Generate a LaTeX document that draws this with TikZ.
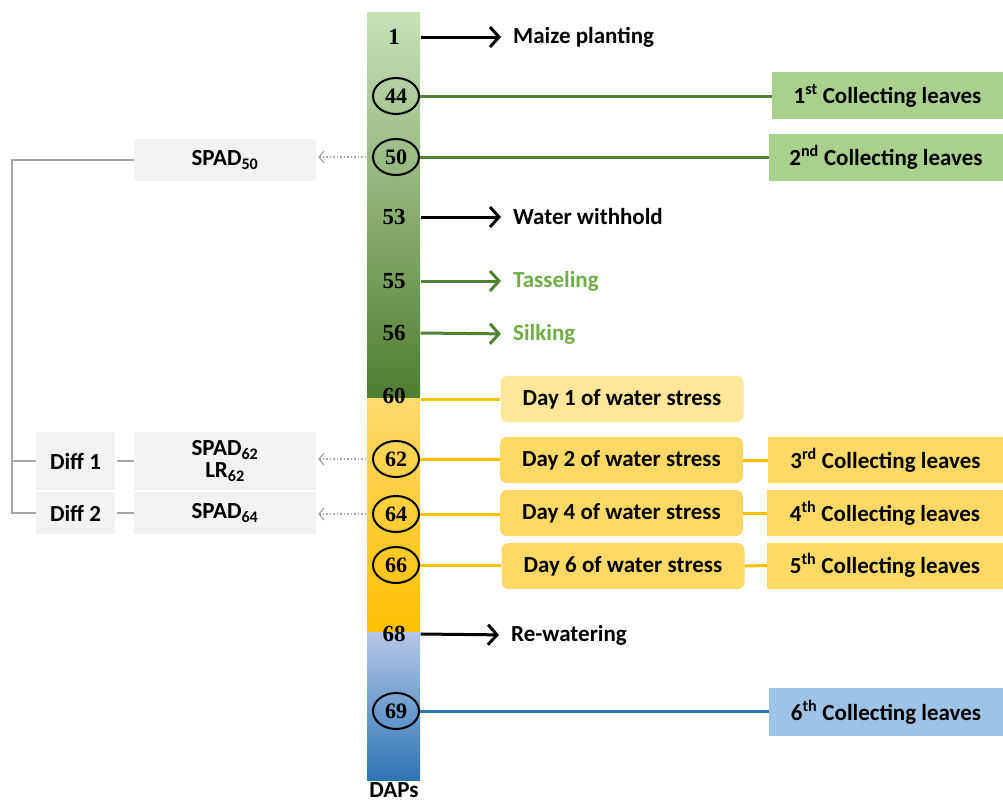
\documentclass[tikz,border=0pt]{standalone}
\usepackage{fontspec}
\setmainfont{Carlito}
\newfontfamily\numfont{Liberation Serif}
\usetikzlibrary{arrows.meta,shapes.geometric}
\definecolor{gTop}{HTML}{C8E2B8}
\definecolor{gBot}{HTML}{4E7D30}
\definecolor{yTop}{HTML}{FFDA6E}
\definecolor{yBot}{HTML}{FFC000}
\definecolor{bTop}{HTML}{B4C7E7}
\definecolor{bBot}{HTML}{2E75B6}
\definecolor{boxGreen}{HTML}{A9D18E}
\definecolor{dayOne}{HTML}{FFE699}
\definecolor{dayBox}{HTML}{FFD966}
\definecolor{boxBlue}{HTML}{9DC3E6}
\definecolor{boxGray}{HTML}{F2F2F2}
\definecolor{lnGreen}{HTML}{548235}
\definecolor{txtGreen}{HTML}{70AD47}
\definecolor{lnYellow}{HTML}{FFC000}
\definecolor{lnBlue}{HTML}{2E75B6}
\definecolor{lnGray}{HTML}{A6A6A6}
\begin{document}
\begin{tikzpicture}[x=1pt,y=-1pt,
  every node/.style={font=\fontsize{23}{26}\selectfont\bfseries},
  num/.style={font=\fontsize{23}{24}\selectfont\numfont\bfseries, minimum width=53pt, inner sep=0pt},
  cnum/.style={font=\fontsize{22}{24}\selectfont\numfont\bfseries, ellipse, draw=black, line width=2pt, minimum width=46pt, minimum height=36pt, inner sep=0pt},
  lbl/.style={anchor=west, inner xsep=0pt},
  blackarrow/.style={line width=3pt, -{Straight Barb[length=9pt,width=20pt,line width=3pt]}, shorten >=12pt},
  greenarrow/.style={lnGreen, line width=3pt, -{Straight Barb[length=9pt,width=20pt,line width=3pt]}, shorten >=12pt},
  conn/.style={line width=3pt},
  dotarrow/.style={lnGray, line width=1.5pt, dotted, -{Straight Barb[length=5pt,width=12pt,line width=1.2pt]}, shorten <=6pt, shorten >=2pt},
  grayline/.style={lnGray, line width=1.5pt},
  gbox/.style={fill=boxGreen, minimum height=47pt, inner sep=0pt},
  ybox/.style={fill=dayBox, minimum height=46pt, inner sep=0pt},
  daybox/.style={fill=dayBox, rounded corners=7pt, minimum width=243pt, minimum height=46pt, inner sep=0pt},
  graybox/.style={fill=boxGray, inner sep=0pt}
]
\useasboundingbox (0,0) rectangle (1003,804);
\fill[white] (0,0) rectangle (1003,804);

% bar
\shade[top color=gTop, bottom color=gBot] (367,12) rectangle (420,398);
\shade[top color=yTop, bottom color=yBot] (367,398) rectangle (420,632);
\shade[top color=bTop, bottom color=bBot] (367,632) rectangle (420,780);

% numbers
\node[num] (n1) at (394,37) {1};
\node[cnum] (n44) at (396,96) {44};
\node[cnum] (n50) at (396,157) {50};
\node[num] (n53) at (394,217) {53};
\node[num] (n55) at (394,281) {55};
\node[num] (n56) at (394,333) {56};
\node[num] (n60) at (394,396) {60};
\node[cnum] (n62) at (396,459) {62};
\node[cnum] (n64) at (396,514) {64};
\node[cnum] (n66) at (396,565) {66};
\node[num] (n68) at (394,634) {68};
\node[cnum] (n69) at (396,711) {69};
\node[inner sep=0pt, anchor=base] (daps) at (394,797) {DAPs};

% labels with arrows
\node[lbl] (maize) at (513,37) {Maize planting};
\node[lbl] (withhold) at (513,217) {Water withhold};
\node[lbl, text=txtGreen] (tassel) at (513,281) {Tasseling};
\node[lbl, text=txtGreen] (silk) at (513,334) {Silking};
\node[lbl] (rewater) at (511,635) {Re-watering};
\draw[blackarrow] (n1.east) -- (maize.west);
\draw[blackarrow] (n53.east) -- (withhold.west);
\draw[greenarrow] (n55.east) -- (tassel.west);
\draw[greenarrow] (n56.east) -- (silk.west);
\draw[blackarrow] (n68.east) -- (rewater.west);

% right boxes
\node[gbox, minimum width=231pt] (c1) at (887.5,95.5) {1\textsuperscript{st} Collecting leaves};
\node[gbox, minimum width=234pt] (c2) at (886,157) {2\textsuperscript{nd} Collecting leaves};
\node[daybox, fill=dayOne] (d1) at (622,399) {Day 1 of water stress};
\node[daybox] (d2) at (621.5,460) {Day 2 of water stress};
\node[daybox] (d4) at (621.5,513) {Day 4 of water stress};
\node[daybox] (d6) at (623,566) {Day 6 of water stress};
\node[ybox, minimum width=235pt] (c3) at (885.5,460) {3\textsuperscript{rd} Collecting leaves};
\node[ybox, minimum width=236pt] (c4) at (885,513) {4\textsuperscript{th} Collecting leaves};
\node[ybox, minimum width=236pt] (c5) at (885,565.5) {5\textsuperscript{th} Collecting leaves};
\node[gbox, fill=boxBlue, minimum width=234pt, minimum height=48pt] (c6) at (886,712) {6\textsuperscript{th} Collecting leaves};

\draw[conn, lnGreen] (n44.east) -- (c1.west |- n44.east);
\draw[conn, lnGreen] (n50.east) -- (c2.west |- n50.east);
\draw[conn, lnYellow] (n60.east |- d1.west) -- (d1.west);
\draw[conn, lnYellow] (n62.east) -- (d2.west |- n62.east);
\draw[conn, lnYellow] (n64.east) -- (d4.west |- n64.east);
\draw[conn, lnYellow] (n66.east) -- (d6.west |- n66.east);
\draw[conn, lnYellow] (d2.east) -- (c3.west);
\draw[conn, lnYellow] (d4.east) -- (c4.west);
\draw[conn, lnYellow] (d6.east) -- (c5.west);
\draw[conn, lnBlue] (n69.east) -- (c6.west |- n69.east);

% left boxes
\node[graybox, minimum width=182pt, minimum height=42pt] (s50) at (225,160) {SPAD\textsubscript{50}};
\node[graybox, minimum width=182pt, minimum height=58pt, align=center] (s62) at (225,461) {SPAD\textsubscript{62}\\[-4pt]LR\textsubscript{62}};
\node[graybox, minimum width=182pt, minimum height=42pt] (s64) at (225,513) {SPAD\textsubscript{64}};
\node[graybox, minimum width=79pt, minimum height=58pt] (df1) at (75.5,461) {Diff 1};
\node[graybox, minimum width=79pt, minimum height=42pt] (df2) at (75.5,513) {Diff 2};
\coordinate (corner) at (12,160);

\draw[dotarrow] (n50.west) -- (s50.east |- n50.west);
\draw[dotarrow] (n62.west) -- (s62.east |- n62.west);
\draw[dotarrow] (n64.west) -- (s64.east |- n64.west);
\draw[grayline] (s50.west) -- (corner) -- (corner |- df2.west) -- (df2.west);
\draw[grayline] (corner |- df1.west) -- (df1.west);
\draw[grayline] (df1.east) ++(2,0) -- (s62.west);
\draw[grayline] (df2.east) ++(2,0) -- (s64.west);
\end{tikzpicture}
\end{document}
